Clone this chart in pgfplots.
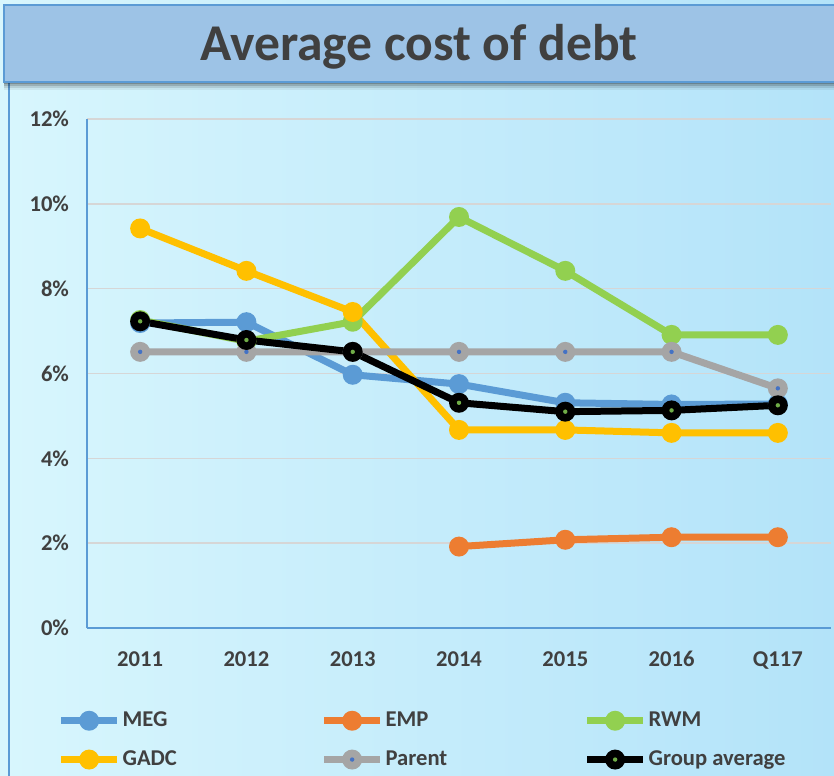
\documentclass[border=0pt]{standalone}
\usepackage{fontspec}
\setmainfont{Carlito}
\usepackage{pgfplots}
\pgfplotsset{compat=1.18}

\definecolor{megc}{HTML}{5B9BD5}
\definecolor{empc}{HTML}{ED7D31}
\definecolor{rwmc}{HTML}{92D050}
\definecolor{gadcc}{HTML}{FFC000}
\definecolor{parc}{HTML}{A5A5A5}
\definecolor{txtc}{HTML}{404040}
\definecolor{gridc}{HTML}{D6D6D6}
\definecolor{titlec}{HTML}{9DC3E6}
\definecolor{bgleft}{HTML}{D8F6FD}
\definecolor{bgright}{HTML}{B3E3F9}
\definecolor{pdot}{HTML}{4472C4}
\definecolor{gdot}{HTML}{70AD47}

% filled circle with a small coloured dot in the middle
\pgfdeclareplotmark{bluedot}{%
  \pgfpathcircle{\pgfpointorigin}{\pgfplotmarksize}\pgfusepathqfill
  \pgfscope\pgfsetfillcolor{pdot}%
  \pgfpathcircle{\pgfpointorigin}{1.1bp}\pgfusepathqfill\endpgfscope}
\pgfdeclareplotmark{greendot}{%
  \pgfpathcircle{\pgfpointorigin}{\pgfplotmarksize}\pgfusepathqfill
  \pgfscope\pgfsetfillcolor{gdot}%
  \pgfpathcircle{\pgfpointorigin}{1.1bp}\pgfusepathqfill\endpgfscope}
\pgfdeclareplotmark{disc}{%
  \pgfpathcircle{\pgfpointorigin}{\pgfplotmarksize}\pgfusepathqfill}

\begin{document}
\begin{tikzpicture}
  \begin{scope}[x=0.5bp,y=0.5bp]
  % background
  \shade[left color=bgleft, right color=bgright] (0,0) rectangle (834,776);
  \draw[megc, line width=0.8bp] (9,0) -- (9,694);
  % title band with a soft shadow
  \foreach \d/\o in {8/0.06,6/0.1,4/0.15,2/0.2}
    \fill[black, opacity=\o] (4,694-\d) rectangle (834,771-\d);
  \fill[titlec] (4,694) rectangle (834,771);
  \draw[megc, line width=0.6bp] (834,694) -- (4,694) -- (4,771) -- (834,771);
  \node[anchor=base, font=\bfseries\fontsize{25.8bp}{30bp}\selectfont, text=txtc]
    at (419,716) {Average cost of debt};
  \end{scope}

  \begin{axis}[
    at={(43.5bp,74bp)}, anchor=south west,
    scale only axis, width=372bp, height=254.5bp,
    xmin=-0.5, xmax=6.5, ymin=0, ymax=12,
    xtick={0,...,6},
    xticklabels={2011,2012,2013,2014,2015,2016,Q117},
    ytick={0,2,...,12},
    /pgf/number format/assume math mode=true,
    yticklabel={\pgfmathprintnumber{\tick}\%},
    ticklabel style={font=\bfseries\fontsize{11.3bp}{13bp}\selectfont, text=txtc},
    yticklabel style={xshift=-5.5bp},
    xticklabel style={yshift=-7.5bp, text height=8bp, text depth=0pt},
    major tick length=0pt,
    axis lines*=left,
    axis line style={megc, line width=0.8bp, -},
    ymajorgrids,
    major grid style={gridc, line width=0.7bp},
    clip=false,
    every axis plot/.append style={line width=3.5bp, mark size=5bp},
    legend columns=3,
    legend style={at={(-0.040,-0.160)}, anchor=north west,
      draw=none, fill=none, row sep=8.5bp, inner sep=0pt,
      font=\bfseries\fontsize{11.3bp}{13bp}\selectfont, text=txtc,
      nodes={inner sep=1bp}},
    legend cell align=left,
    legend image code/.code={%
      \draw[mark repeat=2, mark phase=2] plot coordinates {(0bp,0bp) (14bp,0bp) (28bp,0bp)};},
  ]
    \addplot[megc, mark=disc, mark options={fill=megc}] coordinates {
      (0,7.19) (1,7.21) (2,5.97) (3,5.75) (4,5.31) (5,5.27) (6,5.28)};
    \addlegendentry{\makebox[98bp][l]{MEG}}
    \addplot[empc, mark=disc, mark options={fill=empc}] coordinates {
      (3,1.92) (4,2.08) (5,2.14) (6,2.14)};
    \addlegendentry{\makebox[98bp][l]{EMP}}
    \addplot[rwmc, mark=disc, mark options={fill=rwmc}] coordinates {
      (0,7.26) (1,6.76) (2,7.22) (3,9.69) (4,8.42) (5,6.91) (6,6.91)};
    \addlegendentry{\makebox[98bp][l]{RWM}}
    \addplot[gadcc, mark=disc, mark options={fill=gadcc}] coordinates {
      (0,9.42) (1,8.42) (2,7.45) (3,4.67) (4,4.67) (5,4.60) (6,4.60)};
    \addlegendentry{\makebox[98bp][l]{GADC}}
    \addplot[parc, mark=bluedot, mark options={fill=parc}] coordinates {
      (0,6.51) (1,6.51) (2,6.51) (3,6.51) (4,6.51) (5,6.51) (6,5.65)};
    \addlegendentry{\makebox[98bp][l]{Parent}}
    \addplot[black, mark=greendot, mark options={fill=black}] coordinates {
      (0,7.23) (1,6.79) (2,6.51) (3,5.31) (4,5.10) (5,5.13) (6,5.25)};
    \addlegendentry{\makebox[98bp][l]{Group average}}
  \end{axis}
  \pgfresetboundingbox
  \useasboundingbox (0,0) rectangle (417bp,388bp);
\end{tikzpicture}
\end{document}
